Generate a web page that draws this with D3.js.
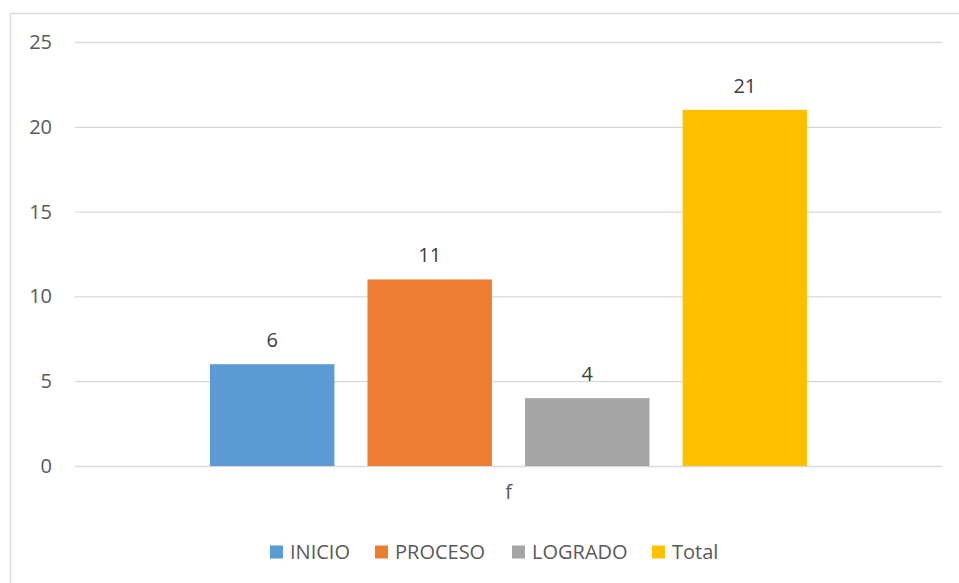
<!DOCTYPE html>
<html>
<head>
<meta charset="utf-8">
<script src="https://cdn.jsdelivr.net/npm/d3@7"></script>
<style>
  body { margin: 0; background: #fff; }
  svg { display: block; font-family: 'Open Sans', sans-serif; }
</style>
</head>
<body>
<div id="chart"></div>
<script>
// data
const categories = ['f'];
const seriesNames = ['INICIO', 'PROCESO', 'LOGRADO', 'Total'];
const seriesValues = [6, 11, 4, 21];
const seriesColors = ['#5B9BD5', '#ED7D31', '#A5A5A5', '#FFC000'];
const yTicks = [0, 5, 10, 15, 20, 25];

const W = 959, H = 583;
const margin = { top: 42, right: 17, bottom: 117, left: 75 };
const width = W - margin.left - margin.right;
const height = H - margin.top - margin.bottom;

const svg = d3.select('#chart').append('svg')
  .attr('width', W)
  .attr('height', H);

// chart frame (right and bottom edges run off the picture)
svg.append('rect')
  .attr('x', 10.5).attr('y', 13.5)
  .attr('width', 980).attr('height', 600)
  .attr('fill', 'none')
  .attr('stroke', '#D9D9D9')
  .attr('stroke-width', 1.5);

const g = svg.append('g')
  .attr('transform', `translate(${margin.left},${margin.top})`);

// scales
const x0 = d3.scaleBand()
  .domain(categories)
  .range([0, width])
  .paddingInner(0)
  .paddingOuter(0.226);

const x1 = d3.scaleBand()
  .domain(seriesNames)
  .range([0, x0.bandwidth()])
  .paddingInner(0.21)
  .paddingOuter(0);

const y = d3.scaleLinear()
  .domain([0, 25])
  .range([height, 0]);

// gridlines + y labels
const yAxis = g.append('g')
  .call(d3.axisLeft(y).tickValues(yTicks).tickSize(-width).tickPadding(23));
yAxis.select('.domain').remove();
yAxis.selectAll('.tick line')
  .attr('stroke', '#D9D9D9')
  .attr('stroke-width', 1.3);
yAxis.selectAll('.tick text')
  .attr('fill', '#595959')
  .style('font-size', '20px')
  .style('font-family', "'Open Sans', sans-serif");

// x axis category label
const xAxis = g.append('g')
  .attr('transform', `translate(0,${height})`)
  .call(d3.axisBottom(x0).tickSize(0).tickPadding(19));
xAxis.select('.domain').remove();
xAxis.selectAll('.tick text')
  .attr('fill', '#595959')
  .style('font-size', '20px')
  .style('font-family', "'Open Sans', sans-serif");

// bars
const data = seriesNames.map((name, i) => ({ name, value: seriesValues[i], color: seriesColors[i] }));

const group = g.selectAll('.cat')
  .data(categories)
  .enter().append('g')
  .attr('class', 'cat')
  .attr('transform', d => `translate(${x0(d)},0)`);

group.selectAll('.bar')
  .data(data)
  .enter().append('rect')
  .attr('class', 'bar')
  .attr('x', d => x1(d.name))
  .attr('width', x1.bandwidth())
  .attr('y', d => y(d.value))
  .attr('height', d => height - y(d.value))
  .attr('fill', d => d.color);

// value labels
group.selectAll('.bar-text')
  .data(data)
  .enter().append('text')
  .attr('class', 'bar-text')
  .attr('text-anchor', 'middle')
  .attr('x', d => x1(d.name) + x1.bandwidth() / 2)
  .attr('y', d => y(d.value) - 17)
  .attr('fill', '#404040')
  .style('font-size', '20px')
  .text(d => d.value);

// legend
const legendX = [270, 375, 512, 652];
const legend = svg.append('g')
  .attr('transform', 'translate(0,552)');

const item = legend.selectAll('.legend-item')
  .data(data)
  .enter().append('g')
  .attr('class', 'legend-item')
  .attr('transform', (d, i) => `translate(${legendX[i]},0)`);

item.append('rect')
  .attr('x', 0).attr('y', -6.5)
  .attr('width', 13).attr('height', 13)
  .attr('fill', d => d.color);

item.append('text')
  .attr('x', 20)
  .attr('y', 0)
  .attr('dy', '0.35em')
  .attr('fill', '#595959')
  .style('font-size', '20px')
  .text(d => d.name);
</script>
</body>
</html>
